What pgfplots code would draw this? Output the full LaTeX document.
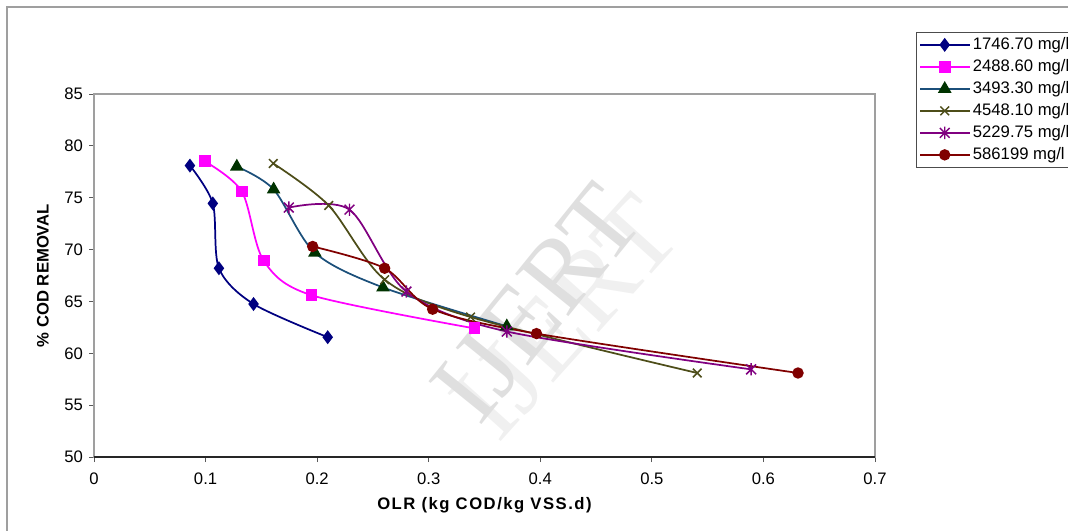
\documentclass[border=0pt]{standalone}
\usepackage{fontspec}
\setmainfont{Liberation Sans}
\newfontfamily\wmfont{Liberation Serif}
\usepackage{pgfplots}
\pgfplotsset{compat=1.18}

% Excel-style star marker: an X with a vertical bar through it
\pgfdeclareplotmark{xstar}{%
  \pgfpathmoveto{\pgfqpoint{0pt}{\pgfplotmarksize}}%
  \pgfpathlineto{\pgfqpoint{0pt}{-\pgfplotmarksize}}%
  \pgfpathmoveto{\pgfqpoint{-.8\pgfplotmarksize}{.8\pgfplotmarksize}}%
  \pgfpathlineto{\pgfqpoint{.8\pgfplotmarksize}{-.8\pgfplotmarksize}}%
  \pgfpathmoveto{\pgfqpoint{-.8\pgfplotmarksize}{-.8\pgfplotmarksize}}%
  \pgfpathlineto{\pgfqpoint{.8\pgfplotmarksize}{.8\pgfplotmarksize}}%
  \pgfusepathqstroke}

\definecolor{cnavy}{HTML}{000080}
\definecolor{cmag}{HTML}{FF00FF}
\definecolor{csteel}{HTML}{1B4F7A}
\definecolor{cgreen}{HTML}{003300}
\definecolor{colive}{HTML}{4D4D19}
\definecolor{cpurple}{HTML}{800080}
\definecolor{cmaroon}{HTML}{800000}

\begin{document}
\begin{tikzpicture}
\path[use as bounding box] (0,0) rectangle (801pt,-398.25pt);
\clip (0,0) rectangle (801pt,-398.25pt);

% outer chart frame
\draw[gray!75, line width=0.9pt] (5.25pt,-420pt) -- (5.25pt,-5.25pt) -- (820pt,-5.25pt);

% watermark
\node[rotate=48, text=gray!12, font=\wmfont\fontsize{82}{82}\selectfont] at (424.5pt,-237.75pt) {IJERT};
\node[rotate=51, text=gray!25, font=\wmfont\fontsize{78}{78}\selectfont] at (402.75pt,-227.25pt) {IJERT};

\begin{axis}[
  at={(70.5pt,-342.75pt)}, anchor=south west,
  scale only axis, width=585.75pt, height=272.25pt,
  xmin=0, xmax=0.7, ymin=50, ymax=85,
  xtick={0,0.1,0.2,0.3,0.4,0.5,0.6,0.7},
  ytick={50,55,60,65,70,75,80,85},
  tick align=outside, tick pos=left,
  major tick length=3.75pt,
  tick style={gray!70!black, line width=0.7pt},
  axis line style={gray!75, line width=0.9pt},
  /pgf/number format/assume math mode=true,
  ticklabel style={font=\fontsize{12.5}{13}\selectfont},
  xticklabel style={yshift=-4.5pt},
  yticklabel style={xshift=-1pt},
  xlabel={OLR (kg COD/kg VSS.d)},
  ylabel={\% COD REMOVAL},
  xlabel style={font=\bfseries\fontsize{12.5}{14}\selectfont\addfontfeature{LetterSpace=9}, at={(axis description cs:0.5,-0.1322)}, anchor=center},
  ylabel style={font=\bfseries\fontsize{12.5}{14}\selectfont, at={(axis description cs:-0.0653,0.5)}, anchor=center},
  every axis plot/.append style={line width=1.3pt, smooth, tension=0.5},
  legend cell align=left,
  legend style={at={(1.0525,1.1708)}, anchor=north west,
    draw=gray!60!black, line width=0.8pt, inner sep=2pt,
    font=\fontsize{12.5}{14}\selectfont,
    row sep=2pt,
    nodes={text height=8.5pt, text depth=2pt, inner sep=2pt}},
  legend image code/.code={%
    \draw[mark repeat=2, mark phase=2] plot coordinates {(0pt,0pt) (18.5pt,0pt) (37pt,0pt)};},
]
\draw[black!85, line width=0.9pt] (axis cs:0,50) -- (axis cs:0.7,50);

\addplot[color=cnavy, mark=diamond*, mark size=4.2pt, mark options={fill=cnavy}]
  coordinates {(0.086,78.1) (0.1065,74.45) (0.112,68.2) (0.143,64.75) (0.2095,61.55)};
\addlegendentry{1746.70 mg/l}

\addplot[color=cmag, mark=square*, mark size=3.8pt, mark options={fill=cmag}]
  coordinates {(0.0994,78.5) (0.1325,75.6) (0.152,68.95) (0.195,65.6) (0.341,62.4)};
\addlegendentry{2488.60 mg/l}

\addplot[color=csteel, mark=triangle*, mark size=4.6pt, mark options={fill=cgreen, draw=cgreen}]
  coordinates {(0.128,78.0) (0.161,75.8) (0.198,69.7) (0.259,66.35) (0.370,62.6)};
\addlegendentry{3493.30 mg/l}

\addplot[color=colive, mark=x, mark size=4.6pt, mark options={line width=1.1pt}]
  coordinates {(0.1607,78.3) (0.2104,74.25) (0.2605,67.1) (0.3375,63.5) (0.5407,58.1)};
\addlegendentry{4548.10 mg/l}

\addplot[color=cpurple, mark=xstar, mark size=4.6pt, mark options={line width=1.1pt}]
  coordinates {(0.1746,74.05) (0.229,73.85) (0.280,65.95) (0.370,62.1) (0.589,58.45)};
\addlegendentry{5229.75 mg/l}

\addplot[color=cmaroon, mark=*, mark size=3.6pt, mark options={fill=cmaroon}]
  coordinates {(0.196,70.3) (0.2605,68.2) (0.3035,64.25) (0.3966,61.9) (0.631,58.1)};
\addlegendentry{586199 mg/l}
\end{axis}
\end{tikzpicture}
\end{document}
